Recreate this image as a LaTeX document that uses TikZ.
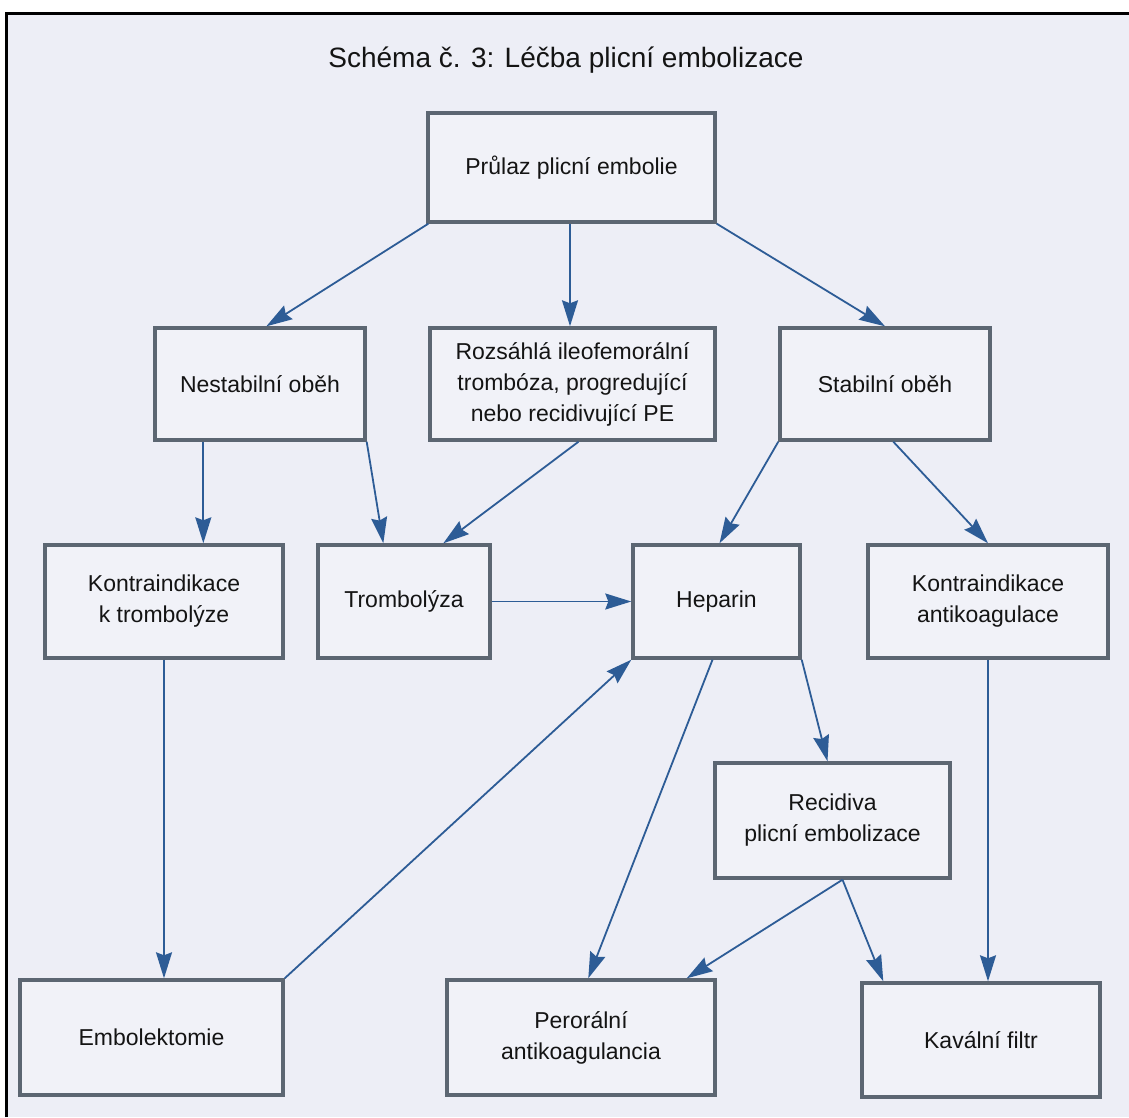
\documentclass[tikz,border=0pt]{standalone}
\usepackage{fontspec}
\setmainfont{Liberation Sans}
\usetikzlibrary{arrows.meta,calc}
\definecolor{bgc}{HTML}{EDEEF6}
\definecolor{boxfill}{HTML}{F1F2F8}
\definecolor{boxline}{HTML}{5C6672}
\definecolor{arrc}{HTML}{2D5C96}
\definecolor{txt}{HTML}{141414}
\begin{document}
\begin{tikzpicture}[x=1pt,y=-1pt,
  box/.style={draw=boxline, line width=3.4pt, fill=boxfill, text=txt,
    align=center, font=\fontsize{23}{31}\selectfont, inner sep=0pt},
  arr/.style={draw=arrc, line width=1.8pt,
    -{Stealth[length=26pt,width=16pt,inset=3pt]}}]
\useasboundingbox (0,0) rectangle (1129,1117);
\fill[white] (0,0) rectangle (1129,1117);
\fill[bgc] (7,14) rectangle (1129,1117);
\draw[black, line width=3.5pt] (6.5,1117) -- (6.5,13.5) -- (1129,13.5);
\node[text=txt, font=\fontsize{28}{32}\selectfont] (title) at (566,60) {Schéma č. 3: Léčba plicní embolizace};

\node[box, minimum width=287pt, minimum height=109pt] (prulaz) at (571.5,167.5) {Průlaz plicní embolie};
\node[box, minimum width=210pt, minimum height=112pt] (nestab) at (260,384) {Nestabilní oběh};
\node[box, minimum width=285pt, minimum height=112pt] (rozs) at (572.5,384) {Rozsáhlá ileofemorální\\trombóza, progredující\\nebo recidivující PE};
\node[box, minimum width=210pt, minimum height=112pt] (stab) at (885,384) {Stabilní oběh};
\node[box, minimum width=238pt, minimum height=113pt] (kontra1) at (164,601.5) {Kontraindikace\\k trombolýze};
\node[box, minimum width=172pt, minimum height=113pt] (tromb) at (404,601.5) {Trombolýza};
\node[box, minimum width=167pt, minimum height=113pt] (hep) at (716.5,601.5) {Heparin};
\node[box, minimum width=240pt, minimum height=113pt] (kontra2) at (988,601.5) {Kontraindikace\\antikoagulace};
\node[box, minimum width=235pt, minimum height=115pt] (recid) at (832.5,820.5) {Recidiva\\plicní embolizace};
\node[box, minimum width=263pt, minimum height=115pt] (embol) at (151.5,1037.5) {Embolektomie};
\node[box, minimum width=268pt, minimum height=115pt] (peror) at (581,1037.5) {Perorální\\antikoagulancia};
\node[box, minimum width=238pt, minimum height=114pt] (kaval) at (981,1040) {Kavální filtr};

\draw[arr] ([xshift=2pt]prulaz.south west) -- ([xshift=113pt]nestab.north west);
\draw[arr] ([xshift=-1.5pt]prulaz.south) -- ([xshift=-1.5pt]prulaz.south |- rozs.north);
\draw[arr] (prulaz.south east) -- (stab.north);
\draw[arr] ([xshift=50pt]nestab.south west) -- ([xshift=50pt]nestab.south west |- kontra1.north);
\draw[arr] (nestab.south east) -- ([xshift=67pt]tromb.north west);
\draw[arr] ([xshift=6pt]rozs.south) -- ([xshift=127pt]tromb.north west);
\draw[arr] (stab.south west) -- ([xshift=3pt]hep.north);
\draw[arr] ([xshift=115pt]stab.south west) -- (kontra2.north);
\draw[arr] (tromb.east) -- (hep.west);
\draw[arr] (kontra1.south) -- (kontra1.south |- embol.north);
\draw[arr] (embol.north east) -- (hep.south west);
\draw[arr] ([xshift=-4pt]hep.south) -- ([xshift=143pt]peror.north west);
\draw[arr] (hep.south east) -- ([xshift=-5pt]recid.north);
\draw[arr] ([xshift=10pt]recid.south) -- ([xshift=-30pt]peror.north east);
\draw[arr] ([xshift=10pt]recid.south) -- ([xshift=23pt]kaval.north west);
\draw[arr] (kontra2.south) -- (kontra2.south |- kaval.north);
\end{tikzpicture}
\end{document}
